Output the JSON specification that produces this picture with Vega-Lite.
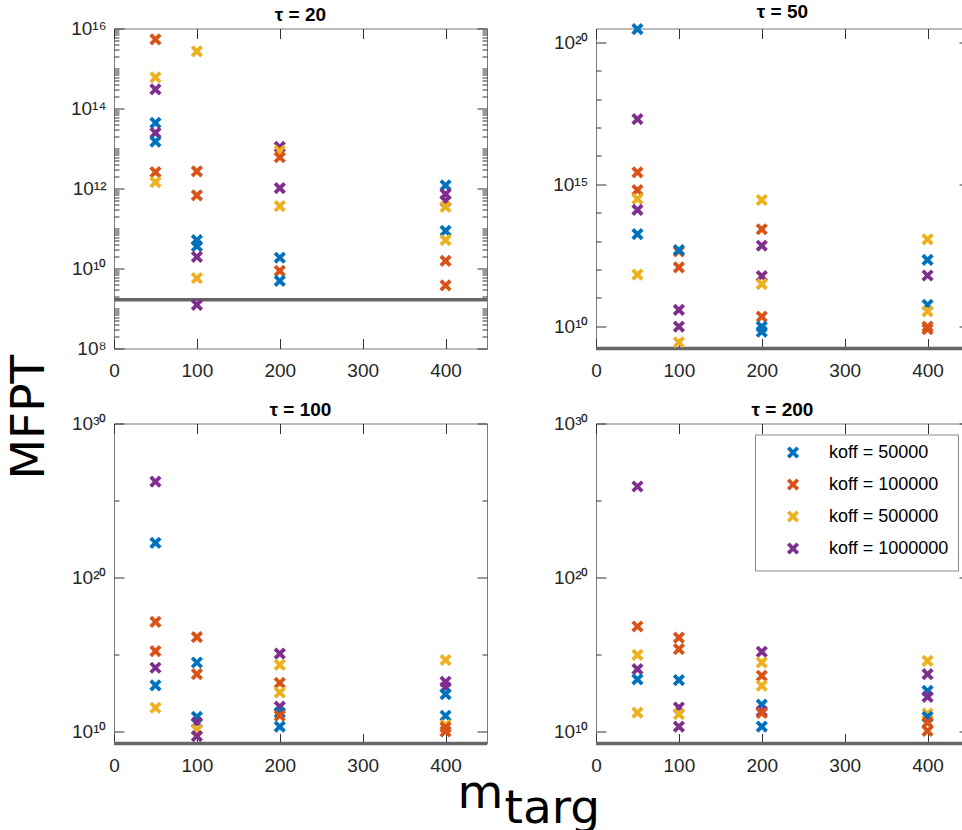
{
  "$schema": "https://vega.github.io/schema/vega-lite/v6.json",
  "padding": {"left": 5, "top": 1.5, "right": 0, "bottom": 0},
  "background": "white",
  "datasets": {
    "threshold": [{"mfpt": 1.66e9}],
    "points": [
      {"tau":20,"mtarg":50,"koff":"100000","mfpt":5.37e15},
      {"tau":20,"mtarg":50,"koff":"500000","mfpt":6.03e14},
      {"tau":20,"mtarg":50,"koff":"1000000","mfpt":3.02e14},
      {"tau":20,"mtarg":50,"koff":"50000","mfpt":4.37e13},
      {"tau":20,"mtarg":50,"koff":"1000000","mfpt":2.45e13},
      {"tau":20,"mtarg":50,"koff":"50000","mfpt":1.48e13},
      {"tau":20,"mtarg":50,"koff":"100000","mfpt":2.57e12},
      {"tau":20,"mtarg":50,"koff":"500000","mfpt":1.45e12},
      {"tau":20,"mtarg":100,"koff":"500000","mfpt":2.69e15},
      {"tau":20,"mtarg":100,"koff":"100000","mfpt":2.69e12},
      {"tau":20,"mtarg":100,"koff":"100000","mfpt":6.76e11},
      {"tau":20,"mtarg":100,"koff":"50000","mfpt":5.13e10},
      {"tau":20,"mtarg":100,"koff":"50000","mfpt":3.63e10},
      {"tau":20,"mtarg":100,"koff":"1000000","mfpt":1.95e10},
      {"tau":20,"mtarg":100,"koff":"500000","mfpt":5.75e9},
      {"tau":20,"mtarg":100,"koff":"1000000","mfpt":1.23e9},
      {"tau":20,"mtarg":200,"koff":"1000000","mfpt":1.10e13},
      {"tau":20,"mtarg":200,"koff":"500000","mfpt":8.71e12},
      {"tau":20,"mtarg":200,"koff":"100000","mfpt":6.03e12},
      {"tau":20,"mtarg":200,"koff":"1000000","mfpt":1.02e12},
      {"tau":20,"mtarg":200,"koff":"500000","mfpt":3.63e11},
      {"tau":20,"mtarg":200,"koff":"50000","mfpt":1.86e10},
      {"tau":20,"mtarg":200,"koff":"100000","mfpt":8.71e9},
      {"tau":20,"mtarg":200,"koff":"50000","mfpt":4.90e9},
      {"tau":20,"mtarg":400,"koff":"50000","mfpt":1.20e12},
      {"tau":20,"mtarg":400,"koff":"1000000","mfpt":7.24e11},
      {"tau":20,"mtarg":400,"koff":"1000000","mfpt":4.90e11},
      {"tau":20,"mtarg":400,"koff":"500000","mfpt":3.47e11},
      {"tau":20,"mtarg":400,"koff":"50000","mfpt":8.71e10},
      {"tau":20,"mtarg":400,"koff":"500000","mfpt":5.13e10},
      {"tau":20,"mtarg":400,"koff":"100000","mfpt":1.55e10},
      {"tau":20,"mtarg":400,"koff":"100000","mfpt":3.80e9},

      {"tau":50,"mtarg":50,"koff":"50000","mfpt":2.95e20},
      {"tau":50,"mtarg":50,"koff":"1000000","mfpt":2.0e17},
      {"tau":50,"mtarg":50,"koff":"100000","mfpt":2.63e15},
      {"tau":50,"mtarg":50,"koff":"100000","mfpt":6.31e14},
      {"tau":50,"mtarg":50,"koff":"500000","mfpt":3.09e14},
      {"tau":50,"mtarg":50,"koff":"1000000","mfpt":1.26e14},
      {"tau":50,"mtarg":50,"koff":"50000","mfpt":1.78e13},
      {"tau":50,"mtarg":50,"koff":"500000","mfpt":6.61e11},
      {"tau":50,"mtarg":100,"koff":"100000","mfpt":4.4e12},
      {"tau":50,"mtarg":100,"koff":"50000","mfpt":4.90e12},
      {"tau":50,"mtarg":100,"koff":"100000","mfpt":1.20e12},
      {"tau":50,"mtarg":100,"koff":"1000000","mfpt":3.80e10},
      {"tau":50,"mtarg":100,"koff":"1000000","mfpt":9.77e9},
      {"tau":50,"mtarg":100,"koff":"500000","mfpt":2.75e9},
      {"tau":50,"mtarg":200,"koff":"500000","mfpt":2.82e14},
      {"tau":50,"mtarg":200,"koff":"100000","mfpt":2.63e13},
      {"tau":50,"mtarg":200,"koff":"1000000","mfpt":6.92e12},
      {"tau":50,"mtarg":200,"koff":"1000000","mfpt":5.89e11},
      {"tau":50,"mtarg":200,"koff":"500000","mfpt":3.09e11},
      {"tau":50,"mtarg":200,"koff":"100000","mfpt":2.19e10},
      {"tau":50,"mtarg":200,"koff":"50000","mfpt":9.77e9},
      {"tau":50,"mtarg":200,"koff":"50000","mfpt":6.46e9},
      {"tau":50,"mtarg":400,"koff":"500000","mfpt":1.15e13},
      {"tau":50,"mtarg":400,"koff":"50000","mfpt":2.19e12},
      {"tau":50,"mtarg":400,"koff":"1000000","mfpt":6.17e11},
      {"tau":50,"mtarg":400,"koff":"50000","mfpt":5.75e10},
      {"tau":50,"mtarg":400,"koff":"500000","mfpt":3.39e10},
      {"tau":50,"mtarg":400,"koff":"100000","mfpt":9.77e9},
      {"tau":50,"mtarg":400,"koff":"100000","mfpt":7.94e9},

      {"tau":100,"mtarg":50,"koff":"1000000","mfpt":1.70e26},
      {"tau":100,"mtarg":50,"koff":"50000","mfpt":1.78e22},
      {"tau":100,"mtarg":50,"koff":"100000","mfpt":1.32e17},
      {"tau":100,"mtarg":50,"koff":"100000","mfpt":1.66e15},
      {"tau":100,"mtarg":50,"koff":"1000000","mfpt":1.38e14},
      {"tau":100,"mtarg":50,"koff":"50000","mfpt":9.77e12},
      {"tau":100,"mtarg":50,"koff":"500000","mfpt":3.47e11},
      {"tau":100,"mtarg":100,"koff":"100000","mfpt":1.35e16},
      {"tau":100,"mtarg":100,"koff":"50000","mfpt":3.02e14},
      {"tau":100,"mtarg":100,"koff":"100000","mfpt":5.37e13},
      {"tau":100,"mtarg":100,"koff":"50000","mfpt":8.91e10},
      {"tau":100,"mtarg":100,"koff":"1000000","mfpt":3.80e10},
      {"tau":100,"mtarg":100,"koff":"500000","mfpt":1.26e10},
      {"tau":100,"mtarg":100,"koff":"1000000","mfpt":5.01e9},
      {"tau":100,"mtarg":200,"koff":"1000000","mfpt":1.15e15},
      {"tau":100,"mtarg":200,"koff":"500000","mfpt":2.14e14},
      {"tau":100,"mtarg":200,"koff":"100000","mfpt":1.45e13},
      {"tau":100,"mtarg":200,"koff":"500000","mfpt":3.39e12},
      {"tau":100,"mtarg":200,"koff":"1000000","mfpt":4.17e11},
      {"tau":100,"mtarg":200,"koff":"50000","mfpt":1.70e11},
      {"tau":100,"mtarg":200,"koff":"100000","mfpt":1.05e11},
      {"tau":100,"mtarg":200,"koff":"50000","mfpt":2.09e10},
      {"tau":100,"mtarg":400,"koff":"500000","mfpt":4.37e14},
      {"tau":100,"mtarg":400,"koff":"1000000","mfpt":1.70e13},
      {"tau":100,"mtarg":400,"koff":"1000000","mfpt":7.24e12},
      {"tau":100,"mtarg":400,"koff":"50000","mfpt":2.69e12},
      {"tau":100,"mtarg":400,"koff":"50000","mfpt":1.05e11},
      {"tau":100,"mtarg":400,"koff":"500000","mfpt":2.63e10},
      {"tau":100,"mtarg":400,"koff":"100000","mfpt":1.86e10},
      {"tau":100,"mtarg":400,"koff":"100000","mfpt":1.0e10},

      {"tau":200,"mtarg":50,"koff":"1000000","mfpt":8.13e25},
      {"tau":200,"mtarg":50,"koff":"100000","mfpt":6.61e16},
      {"tau":200,"mtarg":50,"koff":"500000","mfpt":9.55e14},
      {"tau":200,"mtarg":50,"koff":"1000000","mfpt":1.12e14},
      {"tau":200,"mtarg":50,"koff":"50000","mfpt":2.40e13},
      {"tau":200,"mtarg":50,"koff":"500000","mfpt":1.70e11},
      {"tau":200,"mtarg":100,"koff":"100000","mfpt":1.26e16},
      {"tau":200,"mtarg":100,"koff":"100000","mfpt":2.24e15},
      {"tau":200,"mtarg":100,"koff":"50000","mfpt":2.19e13},
      {"tau":200,"mtarg":100,"koff":"1000000","mfpt":3.63e11},
      {"tau":200,"mtarg":100,"koff":"500000","mfpt":1.35e11},
      {"tau":200,"mtarg":100,"koff":"1000000","mfpt":2.09e10},
      {"tau":200,"mtarg":200,"koff":"1000000","mfpt":1.51e15},
      {"tau":200,"mtarg":200,"koff":"500000","mfpt":3.02e14},
      {"tau":200,"mtarg":200,"koff":"100000","mfpt":4.17e13},
      {"tau":200,"mtarg":200,"koff":"500000","mfpt":9.33e12},
      {"tau":200,"mtarg":200,"koff":"50000","mfpt":5.50e11},
      {"tau":200,"mtarg":200,"koff":"1000000","mfpt":2.0e11},
      {"tau":200,"mtarg":200,"koff":"100000","mfpt":1.58e11},
      {"tau":200,"mtarg":200,"koff":"50000","mfpt":2.09e10},
      {"tau":200,"mtarg":400,"koff":"500000","mfpt":3.89e14},
      {"tau":200,"mtarg":400,"koff":"1000000","mfpt":5.37e13},
      {"tau":200,"mtarg":400,"koff":"50000","mfpt":4.37e12},
      {"tau":200,"mtarg":400,"koff":"1000000","mfpt":1.78e12},
      {"tau":200,"mtarg":400,"koff":"500000","mfpt":1.48e11},
      {"tau":200,"mtarg":400,"koff":"50000","mfpt":8.91e10},
      {"tau":200,"mtarg":400,"koff":"100000","mfpt":3.80e10},
      {"tau":200,"mtarg":400,"koff":"100000","mfpt":1.10e10}
    ]
  },
  "title": {"text": "MFPT", "orient": "left", "anchor": "middle", "font": "DejaVu Sans", "fontSize": 47, "fontWeight": "normal", "color": "black", "offset": 16},
  "bounds": "flush",
  "columns": 2,
  "spacing": {"row": 75, "column": 109},
  "resolve": {"scale": {"color": "independent"}, "legend": {"color": "independent"}},
  "concat": [
    {
      "width": 373, "height": 320,
      "title": {"text": "τ = 20"},
      "resolve": {"axis": {"x": "independent", "y": "independent"}},
      "layer": [
        {"data": {"name": "threshold"}, "mark": {"type": "rule", "color": "#666666", "strokeWidth": 3.5},
         "encoding": {"y": {"field": "mfpt", "type": "quantitative", "scale": {"type": "log", "domain": [1e8, 1e16], "nice": false}, "axis": null}}},
        {"data": {"name": "points"}, "transform": [{"filter": "datum.tau == 20"}],
         "mark": {"type": "point", "shape": "M-1,-1L1,1M-1,1L1,-1", "filled": false, "strokeWidth": 3.8, "size": 90, "opacity": 1},
         "encoding": {
           "x": {"field": "mtarg", "type": "quantitative", "scale": {"domain": [0, 450], "nice": false},
                 "axis": {"orient": "bottom", "values": [0,100,200,300,400], "tickSize": -10, "labelPadding": 23, "title": null}},
           "y": {"field": "mfpt", "type": "quantitative", "scale": {"type": "log", "domain": [1e8, 1e16], "nice": false},
                 "axis": {"orient": "left", "title": null, "labelPadding": 18,
                          "values": [1e8,2e8,3e8,4e8,5e8,6e8,7e8,8e8,9e8,1e9,2e9,3e9,4e9,5e9,6e9,7e9,8e9,9e9,1e10,2e10,3e10,4e10,5e10,6e10,7e10,8e10,9e10,1e11,2e11,3e11,4e11,5e11,6e11,7e11,8e11,9e11,1e12,2e12,3e12,4e12,5e12,6e12,7e12,8e12,9e12,1e13,2e13,3e13,4e13,5e13,6e13,7e13,8e13,9e13,1e14,2e14,3e14,4e14,5e14,6e14,7e14,8e14,9e14,1e15,2e15,3e15,4e15,5e15,6e15,7e15,8e15,9e15,1e16],
                          "labelExpr": "datum.value == 1e8 ? '10⁸' : datum.value == 1e10 ? '10¹⁰' : datum.value == 1e12 ? '10¹²' : datum.value == 1e14 ? '10¹⁴' : datum.value == 1e16 ? '10¹⁶' : ''",
                          "tickSize": {"condition": {"test": "indexof([1e8,1e10,1e12,1e14,1e16], datum.value) >= 0", "value": -10}, "value": -5}}},
           "color": {"field": "koff", "type": "nominal", "scale": {"domain": ["50000","100000","500000","1000000"], "range": ["#0072BD","#D95319","#EDB120","#7E2F8E"]}, "legend": null}
         }},
        {"data": {"name": "points"}, "transform": [{"filter": "datum.tau == 20"}],
         "mark": {"type": "point", "opacity": 0},
         "encoding": {
           "x": {"field": "mtarg", "type": "quantitative", "scale": {"domain": [0, 450], "nice": false},
                 "axis": {"orient": "top", "values": [0,100,200,300,400], "tickSize": -10, "labels": false, "title": null}},
           "y": {"field": "mfpt", "type": "quantitative", "scale": {"type": "log", "domain": [1e8, 1e16], "nice": false},
                 "axis": {"orient": "right", "title": null, "labels": false,
                          "values": [1e8,2e8,3e8,4e8,5e8,6e8,7e8,8e8,9e8,1e9,2e9,3e9,4e9,5e9,6e9,7e9,8e9,9e9,1e10,2e10,3e10,4e10,5e10,6e10,7e10,8e10,9e10,1e11,2e11,3e11,4e11,5e11,6e11,7e11,8e11,9e11,1e12,2e12,3e12,4e12,5e12,6e12,7e12,8e12,9e12,1e13,2e13,3e13,4e13,5e13,6e13,7e13,8e13,9e13,1e14,2e14,3e14,4e14,5e14,6e14,7e14,8e14,9e14,1e15,2e15,3e15,4e15,5e15,6e15,7e15,8e15,9e15,1e16],
                          "tickSize": {"condition": {"test": "indexof([1e8,1e10,1e12,1e14,1e16], datum.value) >= 0", "value": -10}, "value": -5}}}
         }}
      ]
    },
    {
      "width": 373, "height": 320,
      "title": {"text": "τ = 50"},
      "resolve": {"axis": {"x": "independent", "y": "independent"}},
      "layer": [
        {"data": {"name": "threshold"}, "mark": {"type": "rule", "color": "#666666", "strokeWidth": 3.5},
         "encoding": {"y": {"field": "mfpt", "type": "quantitative", "scale": {"type": "log", "domain": [1.66e9, 3.09e20], "nice": false}, "axis": null}}},
        {"data": {"name": "points"}, "transform": [{"filter": "datum.tau == 50"}],
         "mark": {"type": "point", "shape": "M-1,-1L1,1M-1,1L1,-1", "filled": false, "strokeWidth": 3.8, "size": 90, "opacity": 1},
         "encoding": {
           "x": {"field": "mtarg", "type": "quantitative", "scale": {"domain": [0, 450], "nice": false},
                 "axis": {"orient": "bottom", "values": [0,100,200,300,400], "tickSize": -10, "labelPadding": 23, "title": null}},
           "y": {"field": "mfpt", "type": "quantitative", "scale": {"type": "log", "domain": [1.66e9, 3.09e20], "nice": false},
                 "axis": {"orient": "left", "title": null, "labelPadding": 18,
                          "values": [1e10,1e11,1e12,1e13,1e14,1e15,1e16,1e17,1e18,1e19,1e20],
                          "labelExpr": "datum.value == 1e10 ? '10¹⁰' : datum.value == 1e15 ? '10¹⁵' : datum.value == 1e20 ? '10²⁰' : ''",
                          "tickSize": {"condition": {"test": "indexof([1e10,1e15,1e20], datum.value) >= 0", "value": -10}, "value": -5}}},
           "color": {"field": "koff", "type": "nominal", "scale": {"domain": ["50000","100000","500000","1000000"], "range": ["#0072BD","#D95319","#EDB120","#7E2F8E"]}, "legend": null}
         }},
        {"data": {"name": "points"}, "transform": [{"filter": "datum.tau == 50"}],
         "mark": {"type": "point", "opacity": 0},
         "encoding": {
           "x": {"field": "mtarg", "type": "quantitative", "scale": {"domain": [0, 450], "nice": false},
                 "axis": {"orient": "top", "values": [0,100,200,300,400], "tickSize": -10, "labels": false, "title": null}},
           "y": {"field": "mfpt", "type": "quantitative", "scale": {"type": "log", "domain": [1.66e9, 3.09e20], "nice": false},
                 "axis": {"orient": "right", "title": null, "labels": false,
                          "values": [1e10,1e11,1e12,1e13,1e14,1e15,1e16,1e17,1e18,1e19,1e20],
                          "tickSize": {"condition": {"test": "indexof([1e10,1e15,1e20], datum.value) >= 0", "value": -10}, "value": -5}}}
         }}
      ]
    },
    {
      "width": 373, "height": 320,
      "title": {"text": "τ = 100"},
      "resolve": {"axis": {"x": "independent", "y": "independent"}},
      "layer": [
        {"data": {"name": "threshold"}, "mark": {"type": "rule", "color": "#666666", "strokeWidth": 3.5},
         "encoding": {"y": {"field": "mfpt", "type": "quantitative", "scale": {"type": "log", "domain": [1.66e9, 1e30], "nice": false}, "axis": null}}},
        {"data": {"name": "points"}, "transform": [{"filter": "datum.tau == 100"}],
         "mark": {"type": "point", "shape": "M-1,-1L1,1M-1,1L1,-1", "filled": false, "strokeWidth": 3.8, "size": 90, "opacity": 1},
         "encoding": {
           "x": {"field": "mtarg", "type": "quantitative", "scale": {"domain": [0, 450], "nice": false},
                 "axis": {"orient": "bottom", "values": [0,100,200,300,400], "tickSize": -10, "labelPadding": 23,
                          "title": "m", "titleFont": "DejaVu Sans", "titleFontSize": 47, "titleFontWeight": "normal", "titleColor": "black",
                          "titleAlign": "left", "titleBaseline": "alphabetic", "titleX": 343, "titleY": 64}},
           "y": {"field": "mfpt", "type": "quantitative", "scale": {"type": "log", "domain": [1.66e9, 1e30], "nice": false},
                 "axis": {"orient": "left", "title": null, "labelPadding": 18,
                          "values": [1e10,1e15,1e20,1e25,1e30],
                          "labelExpr": "datum.value == 1e10 ? '10¹⁰' : datum.value == 1e20 ? '10²⁰' : datum.value == 1e30 ? '10³⁰' : ''",
                          "tickSize": {"condition": {"test": "indexof([1e10,1e20,1e30], datum.value) >= 0", "value": -10}, "value": -5}}},
           "color": {"field": "koff", "type": "nominal", "scale": {"domain": ["50000","100000","500000","1000000"], "range": ["#0072BD","#D95319","#EDB120","#7E2F8E"]}, "legend": null}
         }},
        {"data": {"name": "points"}, "transform": [{"filter": "datum.tau == 100"}],
         "mark": {"type": "point", "opacity": 0},
         "encoding": {
           "x": {"field": "mtarg", "type": "quantitative", "scale": {"domain": [0, 450], "nice": false},
                 "axis": {"orient": "top", "values": [0,100,200,300,400], "tickSize": -10, "labels": false, "title": null}},
           "y": {"field": "mfpt", "type": "quantitative", "scale": {"type": "log", "domain": [1.66e9, 1e30], "nice": false},
                 "axis": {"orient": "right", "title": null, "labels": false,
                          "values": [1e10,1e15,1e20,1e25,1e30],
                          "tickSize": {"condition": {"test": "indexof([1e10,1e20,1e30], datum.value) >= 0", "value": -10}, "value": -5}}}
         }}
      ]
    },
    {
      "width": 373, "height": 320,
      "title": {"text": "τ = 200"},
      "resolve": {"axis": {"x": "independent", "y": "independent"}},
      "layer": [
        {"data": {"name": "threshold"}, "mark": {"type": "rule", "color": "#666666", "strokeWidth": 3.5},
         "encoding": {"y": {"field": "mfpt", "type": "quantitative", "scale": {"type": "log", "domain": [1.66e9, 1e30], "nice": false}, "axis": null}}},
        {"data": {"name": "points"}, "transform": [{"filter": "datum.tau == 200"}],
         "mark": {"type": "point", "shape": "M-1,-1L1,1M-1,1L1,-1", "filled": false, "strokeWidth": 3.8, "size": 90, "opacity": 1},
         "encoding": {
           "x": {"field": "mtarg", "type": "quantitative", "scale": {"domain": [0, 450], "nice": false},
                 "axis": {"orient": "bottom", "values": [0,100,200,300,400], "tickSize": -10, "labelPadding": 23,
                          "title": "targ", "titleFont": "DejaVu Sans", "titleFontSize": 47, "titleFontWeight": "normal", "titleColor": "black",
                          "titleAlign": "left", "titleBaseline": "alphabetic", "titleX": -92, "titleY": 79}},
           "y": {"field": "mfpt", "type": "quantitative", "scale": {"type": "log", "domain": [1.66e9, 1e30], "nice": false},
                 "axis": {"orient": "left", "title": null, "labelPadding": 18,
                          "values": [1e10,1e15,1e20,1e25,1e30],
                          "labelExpr": "datum.value == 1e10 ? '10¹⁰' : datum.value == 1e20 ? '10²⁰' : datum.value == 1e30 ? '10³⁰' : ''",
                          "tickSize": {"condition": {"test": "indexof([1e10,1e20,1e30], datum.value) >= 0", "value": -10}, "value": -5}}},
           "color": {"field": "koff", "type": "nominal", "scale": {"domain": ["50000","100000","500000","1000000"], "range": ["#0072BD","#D95319","#EDB120","#7E2F8E"]},
                     "legend": {"orient": "top-right", "offset": 11, "title": null, "labelExpr": "'koff = ' + datum.label",
                                "strokeColor": "#888888", "fillColor": "white", "padding": 9, "rowPadding": 6,
                                "symbolType": "M-1,-1L1,1M-1,1L1,-1", "symbolSize": 90, "symbolStrokeWidth": 3.8, "symbolOffset": 20,
                                "labelOffset": 27, "labelFont": "Liberation Sans", "labelFontSize": 18, "labelColor": "black"}}
         }},
        {"data": {"name": "points"}, "transform": [{"filter": "datum.tau == 200"}],
         "mark": {"type": "point", "opacity": 0},
         "encoding": {
           "x": {"field": "mtarg", "type": "quantitative", "scale": {"domain": [0, 450], "nice": false},
                 "axis": {"orient": "top", "values": [0,100,200,300,400], "tickSize": -10, "labels": false, "title": null}},
           "y": {"field": "mfpt", "type": "quantitative", "scale": {"type": "log", "domain": [1.66e9, 1e30], "nice": false},
                 "axis": {"orient": "right", "title": null, "labels": false,
                          "values": [1e10,1e15,1e20,1e25,1e30],
                          "tickSize": {"condition": {"test": "indexof([1e10,1e20,1e30], datum.value) >= 0", "value": -10}, "value": -5}}}
         }}
      ]
    }
  ],
  "config": {
    "font": "Liberation Sans",
    "view": {"stroke": "#7a7a7a", "strokeWidth": 1},
    "title": {"font": "Liberation Sans", "fontSize": 19, "fontWeight": "bold", "color": "black", "offset": -5},
    "axis": {"domain": false, "grid": false, "labelFont": "Liberation Sans", "labelFontSize": 19, "labelColor": "#262626",
             "tickColor": "#333333", "tickWidth": 1, "labelOverlap": false, "labelBound": false, "labelFlush": false}
  }
}
